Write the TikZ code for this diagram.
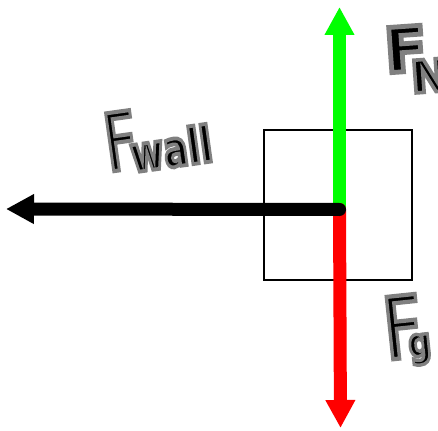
\documentclass[tikz,border=0pt]{standalone}
\usepackage{fontspec}
\usetikzlibrary{arrows.meta}
\setmainfont{DejaVu Sans}
\definecolor{fgreen}{RGB}{0,255,0}
\definecolor{fred}{RGB}{255,0,0}
% handwritten-look text: black fill with a grey outline stroke
\newcommand\hw[2]{{\color{black}\special{pdf:literal direct 2 Tr #1 w 0.5 G}#2\special{pdf:literal direct 0 Tr 0.4 w 0 G}}}
\tikzset{
  force/.style={line width=13pt, line cap=round, -{Triangle[length=28pt,width=28pt]}},
  body/.style={draw=black, line width=2pt, minimum width=148.5pt, minimum height=150pt, inner sep=0pt, fill=none},
  lbl/.style={anchor=base west, inner sep=0pt}
}
\begin{document}
\begin{tikzpicture}[x=1pt,y=-1pt]
  \useasboundingbox (0,0) rectangle (438,430);
  \node[body] (box) at (337.75,205) {};
  \coordinate (c) at (339.5,209.5);
  \coordinate (ntip) at (339.5,7);
  \coordinate (gtip) at (340.5,428);
  \coordinate (wtip) at (6,209);
  \draw[force, fgreen] (c) -- (ntip);
  \draw[force, fred] (c) -- (gtip);
  \draw[force, black] (c) -- (wtip);
  \node[lbl, rotate=8, xscale=0.72] (fwall) at (108,172)
    {\fontsize{80}{80}\selectfont\hw{4}{F}\kern-12pt\raisebox{-4pt}{\fontsize{50}{50}\selectfont\bfseries\hw{3.8}{wall}}};
  \node[lbl, rotate=4] (fn) at (386,73)
    {\fontsize{62}{62}\selectfont\bfseries\hw{4.8}{F}\kern-18pt\raisebox{-22pt}{\fontsize{45}{45}\selectfont\bfseries\hw{3.6}{N}}};
  \node[lbl, rotate=6, xscale=0.8] (fg) at (386,360)
    {\fontsize{86}{86}\selectfont\hw{4.2}{F}\kern-20pt\raisebox{0pt}{\fontsize{40}{40}\selectfont\bfseries\hw{3.4}{g}}};
\end{tikzpicture}
\end{document}
